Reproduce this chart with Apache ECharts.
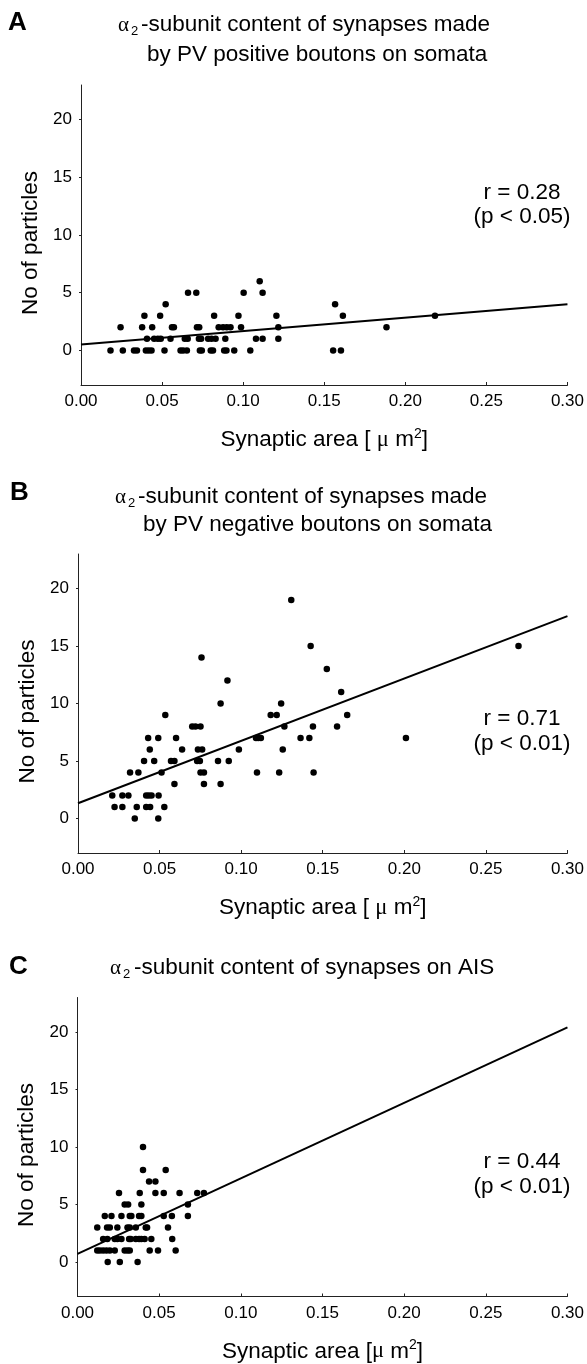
<!DOCTYPE html>
<html><head><meta charset="utf-8">
<script src="https://cdn.jsdelivr.net/npm/echarts@6/dist/echarts.min.js"></script>
<style>html,body{margin:0;padding:0;background:#fff}#c{width:587px;height:1364px}</style>
</head><body><div id="c"></div>
<script>
// ---- tick labels ----
const xTickValues = [0, 0.05, 0.10, 0.15, 0.20, 0.25, 0.30];
const yTickValues = [0, 5, 10, 15, 20];

// ---- panel A: PV positive boutons on somata ----
const pointsA = [
[0.0182,0],[0.0258,0],[0.0327,0],[0.0345,0],[0.0400,0],[0.0418,0],[0.0435,0],[0.0515,0],[0.0614,0],[0.0630,0],[0.0653,0],
[0.0733,0],[0.0745,0],[0.0800,0],[0.0814,0],[0.0883,0],[0.0897,0],[0.0945,0],[0.1044,0],[0.1555,0],[0.1603,0],
[0.0407,1],[0.0451,1],[0.0474,1],[0.0492,1],[0.0552,1],[0.0640,1],[0.0658,1],[0.0727,1],[0.0741,1],[0.0784,1],[0.0805,1],
[0.0830,1],[0.0890,1],[0.1079,1],[0.1120,1],[0.1217,1],
[0.0244,2],[0.0377,2],[0.0439,2],[0.0561,2],[0.0573,2],[0.0715,2],[0.0729,2],[0.0849,2],[0.0876,2],[0.0899,2],[0.0922,2],
[0.0987,2],[0.1217,2],[0.1884,2],
[0.0391,3],[0.0488,3],[0.0821,3],[0.0971,3],[0.1205,3],[0.1615,3],[0.2183,3],
[0.0522,4],[0.1567,4],
[0.0660,5],[0.0711,5],[0.1003,5],[0.1120,5],
[0.1102,6]
];
const fitA = [[0, 0.52], [0.30, 4.0]];

// ---- panel B: PV negative boutons on somata ----
const pointsB = [
[0.0348,0],[0.0492,0],
[0.0224,1],[0.0272,1],[0.0360,1],[0.0418,1],[0.0442,1],[0.0529,1],
[0.0210,2],[0.0272,2],[0.0309,2],[0.0418,2],[0.0434,2],[0.0451,2],[0.0494,2],
[0.0591,3],[0.0772,3],[0.0874,3],
[0.0319,4],[0.0370,4],[0.0512,4],[0.0751,4],[0.0772,4],[0.1097,4],[0.1233,4],[0.1444,4],
[0.0405,5],[0.0467,5],[0.0570,5],[0.0591,5],[0.0730,5],[0.0747,5],[0.0858,5],[0.0924,5],
[0.0440,6],[0.0638,6],[0.0735,6],[0.0761,6],[0.0986,6],[0.1255,6],
[0.0430,7],[0.0492,7],[0.0601,7],[0.1091,7],[0.1105,7],[0.1121,7],[0.1364,7],[0.1418,7],[0.2010,7],
[0.0700,8],[0.0720,8],[0.0751,8],[0.1265,8],[0.1440,8],[0.1588,8],
[0.0535,9],[0.1181,9],[0.1218,9],[0.1650,9],
[0.0874,10],[0.1245,10],
[0.1613,11],[0.0916,12],[0.1525,13],[0.0757,14],[0.1426,15],[0.2700,15],[0.1307,19]
];
const fitB = [[0, 1.33], [0.30, 17.6]];

// ---- panel C: synapses on AIS ----
const pointsC = [
[0.0185,0],[0.0259,0],[0.0368,0],
[0.0121,1],[0.0137,1],[0.0157,1],[0.0177,1],[0.0198,1],[0.0228,1],[0.0289,1],[0.0306,1],[0.0320,1],[0.0442,1],[0.0493,1],[0.0601,1],
[0.0157,2],[0.0183,2],[0.0228,2],[0.0244,2],[0.0269,2],[0.0316,2],[0.0326,2],[0.0357,2],[0.0377,2],[0.0391,2],[0.0411,2],[0.0452,2],[0.0580,2],
[0.0121,3],[0.0181,3],[0.0198,3],[0.0244,3],[0.0306,3],[0.0320,3],[0.0357,3],[0.0418,3],[0.0426,3],[0.0554,3],
[0.0167,4],[0.0208,4],[0.0269,4],[0.0320,4],[0.0330,4],[0.0377,4],[0.0391,4],[0.0528,4],[0.0578,4],[0.0676,4],
[0.0289,5],[0.0310,5],[0.0391,5],[0.0676,5],
[0.0254,6],[0.0381,6],[0.0477,6],[0.0528,6],[0.0625,6],[0.0733,6],[0.0774,6],
[0.0438,7],[0.0477,7],
[0.0401,8],[0.0540,8],
[0.0401,10]
];
const fitC = [[0, 0.7], [0.30, 20.4]];

// ---- texts ----
const panelLetters = ['A', 'B', 'C'];
const titleLines = [
  ['-subunit content of synapses made', 'by PV positive boutons on somata'],
  ['-subunit content of synapses made', 'by PV negative boutons on somata'],
  ['-subunit content of synapses on AIS']
];
const stats = [['r = 0.28', '(p < 0.05)'], ['r = 0.71', '(p < 0.01)'], ['r = 0.44', '(p < 0.01)']];
const xNames = [
  '{t|Synaptic area [ }{g|\u03bc}{t| m}{s|2}{t|]}',
  '{t|Synaptic area [ }{g|\u03bc}{t| m}{s|2}{t|]}',
  '{t|Synaptic area [}{g|\u03bc}{t| m}{s|2}{t|]}'
];
const yName = 'No of particles';

const SANS = '"Liberation Sans", Arial, Helvetica, sans-serif';
const SERIF = '"Liberation Serif", "DejaVu Serif", serif';
const FS = 22.5;

const grids = [
  {left: 81, top: 85, width: 489, height: 300},
  {left: 78, top: 554, width: 491.5, height: 299},
  {left: 77.5, top: 997.5, width: 492, height: 300}
];

const xAxes = grids.map((g, i) => ({
  type: 'value', gridIndex: i, min: 0, max: 0.3, interval: 0.05,
  axisLine: {onZero: false, lineStyle: {color: '#222', width: 1}},
  axisTick: {show: true, inside: true, length: 3, lineStyle: {color: '#222'}},
  splitLine: {show: false},
  axisLabel: {formatter: v => v.toFixed(2), fontSize: 17, color: '#000', fontFamily: SANS, margin: 8,
              customValues: xTickValues},
  name: xNames[i], nameLocation: 'middle', nameGap: 42,
  nameTextStyle: {
    color: '#000', fontFamily: SANS, fontSize: FS,
    rich: {
      t: {fontSize: FS, fontFamily: SANS, color: '#000', lineHeight: 26},
      g: {fontSize: FS, fontFamily: SERIF, color: '#000', lineHeight: 26},
      s: {fontSize: 14, fontFamily: SANS, color: '#000', lineHeight: 14, verticalAlign: 'top'}
    }
  }
}));

const yAxes = grids.map((g, i) => ({
  type: 'value', gridIndex: i, min: -3, max: 23,
  axisLine: {show: true, onZero: false, lineStyle: {color: '#222', width: 1}},
  axisTick: {show: true, inside: false, length: 2, lineStyle: {color: '#222'}, customValues: yTickValues},
  splitLine: {show: false},
  axisLabel: {fontSize: 17, color: '#000', fontFamily: SANS, margin: 9, customValues: yTickValues},
  name: yName, nameLocation: 'middle', nameRotate: 90, nameGap: 38,
  nameTextStyle: {color: '#000', fontFamily: SANS, fontSize: FS, padding: [0, 16, 0, 0]}
}));

const allPoints = [pointsA, pointsB, pointsC];
const allFits = [fitA, fitB, fitC];
const series = [];
allPoints.forEach((pts, i) => {
  series.push({type: 'line', xAxisIndex: i, yAxisIndex: i, data: allFits[i], showSymbol: false, symbol: 'none',
    lineStyle: {color: '#000', width: 2}, silent: true, z: 2});
  series.push({type: 'scatter', xAxisIndex: i, yAxisIndex: i, data: pts, symbol: 'circle', symbolSize: 6.5,
    itemStyle: {color: '#000', opacity: 1}, z: 3});
});

function txt(x, y, text, font, align) {
  return {type: 'text', x: x, y: y, silent: true,
    style: {text: text, font: font, fill: '#000', align: align || 'left', verticalAlign: 'middle',
            textAlign: align || 'left', textVerticalAlign: 'middle'}};
}
const letterPos = [[8, 23], [10, 493], [9, 967]];
const titlePos = [
  {a: [118, 25], l1: 141, l2: [147, 55]},
  {a: [115, 497], l1: 138, l2: [143, 525]},
  {a: [110, 968], l1: 134}
];
const statPos = [[522, 193, 217], [522, 719, 744], [522, 1162, 1187]];

const graphic = [];
panelLetters.forEach((L, i) => {
  graphic.push(txt(letterPos[i][0], letterPos[i][1], L, 'bold 26px ' + SANS));
  const p = titlePos[i];
  graphic.push(txt(p.a[0], p.a[1], '\u03b1', '21px ' + SERIF));
  graphic.push(txt(p.a[0] + 13, p.a[1] + 6, '2', '13px ' + SANS));
  graphic.push(txt(p.l1, p.a[1], titleLines[i][0], FS + 'px ' + SANS));
  if (titleLines[i][1]) graphic.push(txt(p.l2[0], p.l2[1], titleLines[i][1], FS + 'px ' + SANS));
  graphic.push(txt(statPos[i][0], statPos[i][1], stats[i][0], FS + 'px ' + SANS, 'center'));
  graphic.push(txt(statPos[i][0], statPos[i][2], stats[i][1], FS + 'px ' + SANS, 'center'));
});

const chart = echarts.init(document.getElementById('c'), null, {renderer: 'canvas'});
chart.setOption({
  backgroundColor: '#fff',
  animation: false,
  grid: grids,
  xAxis: xAxes,
  yAxis: yAxes,
  series: series,
  graphic: graphic
});
</script></body></html>
